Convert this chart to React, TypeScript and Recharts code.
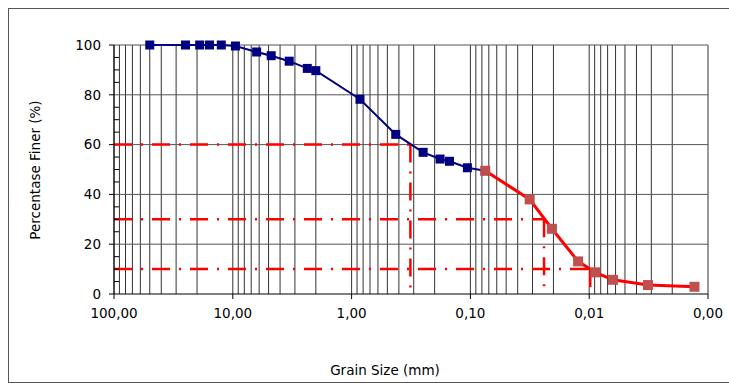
import { LineChart, Line, XAxis, YAxis, ReferenceLine, Label } from "recharts"

// sieve analysis (coarse part) and hydrometer (fine part)
const sieveSizes = [50, 25, 19, 15.7, 12.5, 9.5, 6.3, 4.75, 3.35, 2.36, 2.0, 0.85, 0.425, 0.25, 0.18, 0.15, 0.106, 0.075]
const sievePassing = [100, 100, 100, 100, 100, 99.6, 97.2, 95.7, 93.5, 90.6, 89.7, 78.2, 64.1, 56.9, 54.2, 53.3, 50.7, 49.5]

const hydroSizes = [0.075, 0.0317, 0.0206, 0.0124, 0.0089, 0.0063, 0.0032, 0.0013]
const hydroPassing = [49.5, 38.0, 26.2, 13.1, 8.7, 5.7, 3.6, 2.9]

// D60, D30, D10 markers
const dLevels = [60, 30, 10]
const dSizes = [0.32, 0.024, 0.0098]

const xTicks = [100, 10, 1, 0.1, 0.01, 0.001]
const yTicks = [0, 5, 10, 15, 20, 25, 30, 35, 40, 45, 50, 55, 60, 65, 70, 75, 80, 85, 90, 95, 100]
const yGrid = [20, 40, 60, 80, 100]
const decades = [0.001, 0.01, 0.1, 1, 10]
const mults = [1, 2, 3, 4, 5, 6, 7, 8, 9]
const xGrid = decades.flatMap((d) => mults.map((m) => +(d * m).toPrecision(3))).concat([100])

const sieveData = sieveSizes.map((s, i) => ({ size: s, pct: sievePassing[i] }))
const hydroData = hydroSizes.map((s, i) => ({ size: s, pct: hydroPassing[i] }))

const FONT = "DejaVu Sans"
const FS = 13.5
const W = 721
const H = 373
const margin = { top: 36, right: 22, bottom: 0, left: 45 }
const Y_AXIS_W = 60
const AXIS_X = margin.left + Y_AXIS_W

const fmt = (v: number) => v.toFixed(2).replace(".", ",")

const YTick = (props: any) => {
  const { y, payload } = props
  const major = payload.value % 20 === 0
  return (
    <g>
      <line x1={AXIS_X} x2={major ? AXIS_X - 5 : AXIS_X + 5} y1={y} y2={y} stroke="#000" />
      {major && (
        <text x={AXIS_X - 13} y={y} dy={4.8} textAnchor="end" fontFamily={FONT} fontSize={FS} fill="#000">
          {payload.value}
        </text>
      )}
    </g>
  )
}

const square = (fill: string, size: number) => (props: any) => {
  const { cx, cy, index } = props
  if (cx == null || cy == null) return <g key={index} />
  return <rect key={index} x={cx - size / 2} y={cy - size / 2} width={size} height={size} fill={fill} />
}

export default function App() {
  return (
    <div
      style={{
        position: "fixed",
        left: 8,
        top: 8,
        width: W,
        height: H,
        borderLeft: "1px solid #555",
        borderTop: "1px solid #555",
        borderBottom: "1px solid #555",
        background: "#fff",
      }}
    >
      <LineChart width={W} height={H} margin={margin}>
        <XAxis
          dataKey="size"
          type="number"
          scale="log"
          domain={[0.001, 100]}
          reversed
          allowDataOverflow
          ticks={xTicks}
          tickFormatter={fmt}
          interval={0}
          height={88}
          stroke="#000"
          tickSize={5}
          tickMargin={9}
          tick={{ fontFamily: FONT, fontSize: FS, fill: "#000" }}
        >
          <Label
            content={() => (
              <text x={376} y={366} textAnchor="middle" fontFamily={FONT} fontSize={FS} fill="#000">
                Grain Size (mm)
              </text>
            )}
          />
        </XAxis>
        <YAxis
          type="number"
          domain={[0, 100]}
          ticks={yTicks}
          interval={0}
          width={Y_AXIS_W}
          stroke="#000"
          tickLine={false}
          tick={<YTick />}
        >
          <Label
            content={() => (
              <text
                x={26}
                y={161}
                transform="rotate(-90 26 161)"
                textAnchor="middle"
                dy={4.8}
                fontFamily={FONT}
                fontSize={FS}
                fill="#000"
              >
                Percentase Finer (%)
              </text>
            )}
          />
        </YAxis>
        {xGrid.map((v) => (
          <ReferenceLine key={"vx" + v} x={v} stroke="#333" strokeWidth={1} />
        ))}
        {yGrid.map((v) => (
          <ReferenceLine key={"hy" + v} y={v} stroke="#555" strokeWidth={1} />
        ))}
        {dLevels.map((lvl, i) => (
          <ReferenceLine
            key={"dh" + lvl}
            segment={[
              { x: 100, y: lvl },
              { x: dSizes[i], y: lvl },
            ]}
            stroke="#FF0000"
            strokeWidth={2.5}
            strokeDasharray="18 9 2 9"
          />
        ))}
        {dLevels.map((lvl, i) => (
          <ReferenceLine
            key={"dv" + lvl}
            segment={[
              { x: dSizes[i], y: lvl },
              { x: dSizes[i], y: 0 },
            ]}
            stroke="#FF0000"
            strokeWidth={2.5}
            strokeDasharray="18 9 2 9"
          />
        ))}
        <Line
          data={sieveData}
          dataKey="pct"
          stroke="#000080"
          strokeWidth={2}
          dot={square("#000080", 9)}
          activeDot={false}
          isAnimationActive={false}
        />
        <Line
          data={hydroData}
          dataKey="pct"
          stroke="#FF0000"
          strokeWidth={3}
          dot={square("#C0504D", 10)}
          activeDot={false}
          isAnimationActive={false}
        />
      </LineChart>
    </div>
  )
}
